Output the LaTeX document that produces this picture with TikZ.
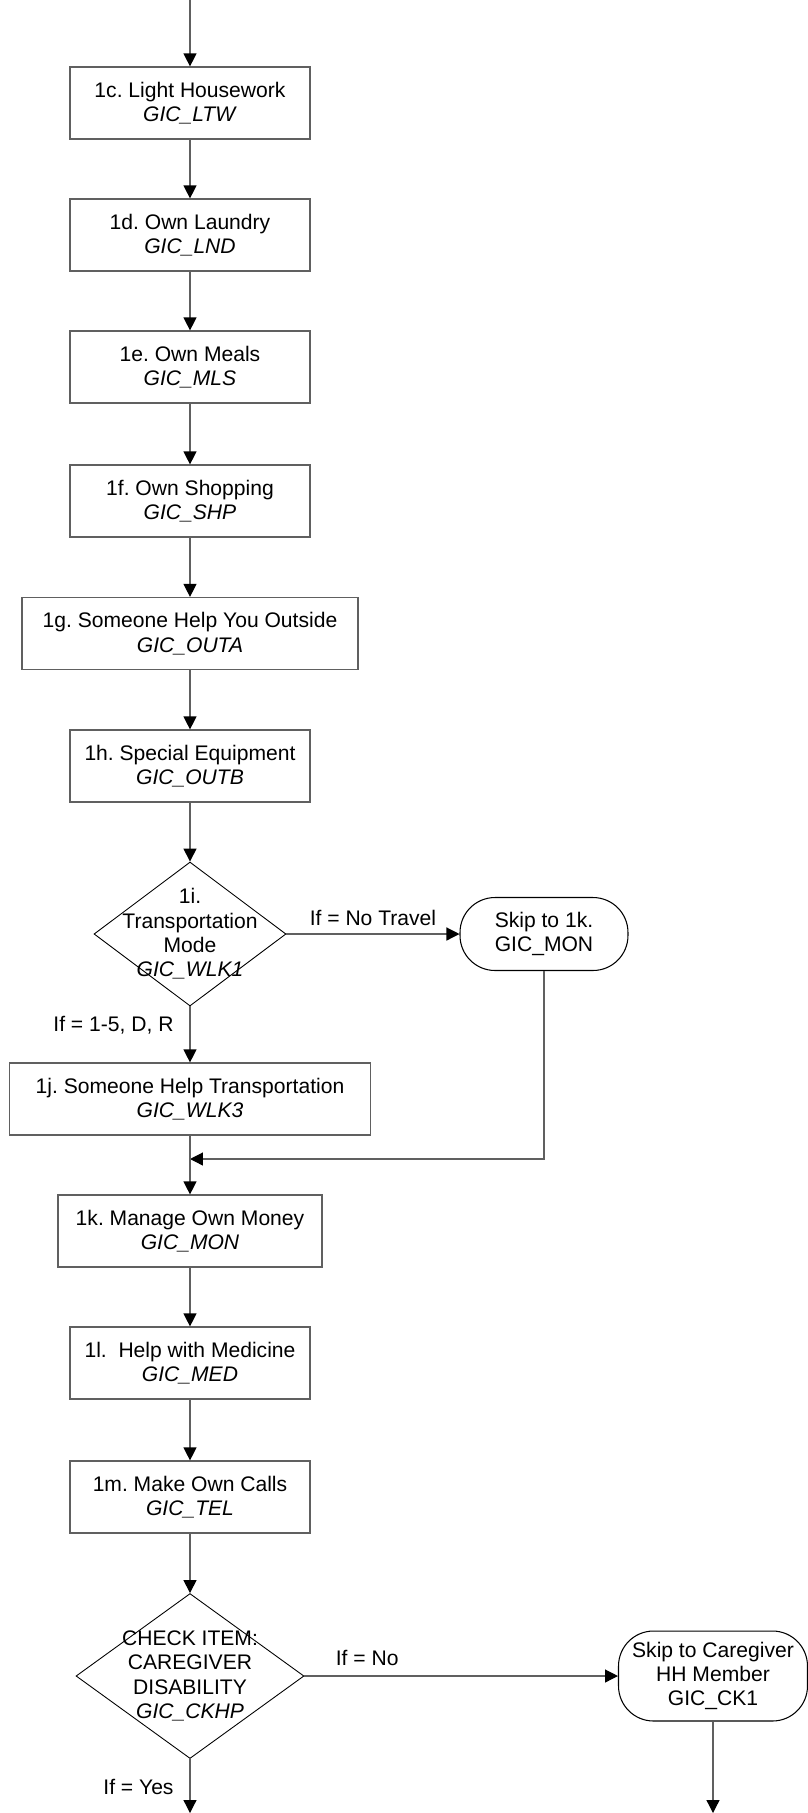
\documentclass[tikz,border=0pt]{standalone}
\usepackage{fontspec}
\setmainfont{Liberation Sans}
\frenchspacing
\usetikzlibrary{arrows.meta,shapes.geometric}
\definecolor{linegray}{RGB}{96,96,96}
\tikzset{
  qfont/.style={font=\fontsize{12}{13.9}\selectfont},
  box/.style={qfont, draw=linegray, line width=0.7pt, align=center,
    minimum width=4.8cm, minimum height=1.44cm},
  decision/.style={draw=black, line width=0.5pt, shape=diamond, inner sep=0pt},
  diatext/.style={qfont, align=center, inner sep=0pt},
  skipbox/.style={qfont, draw=black, line width=0.6pt, align=center,
    rounded corners=0.7cm},
  iflabel/.style={qfont},
  flow/.style={draw=linegray, line width=0.7pt,
    -{Triangle[length=0.26cm,width=0.26cm,color=black]}}
}
\begin{document}
\begin{tikzpicture}[x=0.02cm, y=-0.02cm]
  \useasboundingbox (0,0) rectangle (808,1813);
  \coordinate (start) at (190,0);
  % daily tasks
  \node[box] (ltw) at (190,103) {1c. Light Housework\\\textit{GIC\_LTW}};
  \node[box] (lnd) at (190,235) {1d. Own Laundry\\\textit{GIC\_LND}};
  \node[box] (mls) at (190,367) {1e. Own Meals\\\textit{GIC\_MLS}};
  \node[box] (shp) at (190,501) {1f. Own Shopping\\\textit{GIC\_SHP}};
  \node[box, minimum width=6.72cm] (outa) at (190,633.5) {1g. Someone Help You Outside\\\textit{GIC\_OUTA}};
  \node[box] (outb) at (190,766) {1h. Special Equipment\\\textit{GIC\_OUTB}};
  % transportation
  \node[decision, minimum width=3.84cm, minimum height=2.88cm] (wlk1) at (190,934) {};
  \node[diatext] (wlk1text) at (wlk1) {1i.\\Transportation\\Mode\\\textit{GIC\_WLK1}};
  \node[skipbox, minimum width=3.36cm, minimum height=1.46cm] (skipmon) at (544,934) {Skip to 1k.\\GIC\_MON};
  \node[box, minimum width=7.22cm] (wlk3) at (190,1099) {1j. Someone Help Transportation\\\textit{GIC\_WLK3}};
  \coordinate (merge) at (190,1159);
  \node[box, minimum width=5.28cm] (mon) at (190,1231) {1k. Manage Own Money\\\textit{GIC\_MON}};
  \node[box] (med) at (190,1363) {1l.\ \ Help with Medicine\\\textit{GIC\_MED}};
  \node[box] (tel) at (190,1497) {1m. Make Own Calls\\\textit{GIC\_TEL}};
  % check item
  \node[decision, minimum width=4.56cm, minimum height=3.3cm] (ckhp) at (190,1676) {};
  \node[diatext] (ckhptext) at (ckhp) {CHECK ITEM:\\CAREGIVER\\DISABILITY\\\textit{GIC\_CKHP}};
  \node[skipbox, minimum width=3.78cm, minimum height=1.8cm] (skipck) at (713,1676) {Skip to Caregiver\\HH Member\\GIC\_CK1};
  \coordinate (yesend) at (190,1813);
  \coordinate (noend) at (skipck.south |- yesend);

  \draw[flow] (start) -- (ltw);
  \foreach \a/\b in {ltw/lnd, lnd/mls, mls/shp, shp/outa, outa/outb, outb/wlk1}
    \draw[flow] (\a) -- (\b);
  \draw[flow] (wlk1) -- node[iflabel, above=1pt] (notravel) {If = No Travel} (skipmon);
  \draw[flow] (wlk1) -- node[iflabel, pos=0.34, left=2mm] (travel) {If = 1-5, D, R} (wlk3);
  \draw[flow] (skipmon) |- (merge);
  \draw[flow] (wlk3) -- (mon);
  \draw[flow] (mon) -- (med);
  \draw[flow] (med) -- (tel);
  \draw[flow] (tel) -- (ckhp);
  \draw[flow] (ckhp) -- node[iflabel, pos=0.2, above=2pt] (ifno) {If = No} (skipck);
  \draw[flow] (ckhp) -- node[iflabel, pos=0.52, left=2mm] (ifyes) {If = Yes} (yesend);
  \draw[flow] (skipck) -- (noend);
\end{tikzpicture}
\end{document}
